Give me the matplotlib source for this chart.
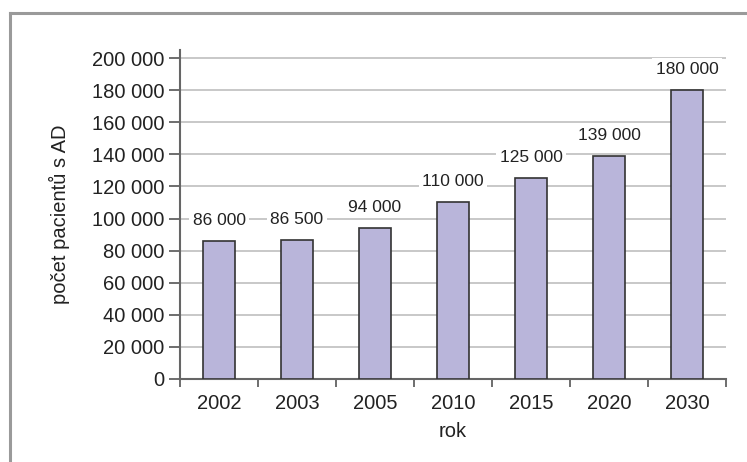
import matplotlib.pyplot as plt
from matplotlib.lines import Line2D

years = ['2002', '2003', '2005', '2010', '2015', '2020', '2030']
patients = [86000, 86500, 94000, 110000, 125000, 139000, 180000]
y_ticks = list(range(0, 200001, 20000))


def fmt(v):
    return f'{v:,}'.replace(',', ' ')


plt.rcParams['font.family'] = ['Liberation Sans', 'DejaVu Sans']

fig = plt.figure(figsize=(7.47, 4.62), dpi=100)
ax = fig.add_axes([0.241, 0.1797, 0.731, 0.712])

x = range(len(years))
ax.bar(x, patients, width=0.42, color='#b9b5da', edgecolor='#333333',
       linewidth=1.2, zorder=3)

for xi, v in zip(x, patients):
    ax.annotate(fmt(v), (xi, v), xytext=(0, 15), textcoords='offset points',
                ha='center', va='center', fontsize=12.5, color='#222222',
                bbox=dict(boxstyle='square,pad=0.2', fc='white', ec='none'),
                zorder=4)

ax.set_xlim(-0.5, len(years) - 0.5)
ax.set_ylim(0, 205000)
ax.set_yticks(y_ticks)
ax.set_yticklabels([fmt(v) for v in y_ticks], fontsize=14.5, color='#222222')
ax.yaxis.grid(True, color='#c4c4c4', linewidth=1.3, zorder=0)

# category labels in the middle, tick marks on the boundaries
ax.set_xticks(list(x))
ax.set_xticklabels(years, fontsize=14.5, color='#222222')
ax.tick_params(axis='x', length=0, pad=11)
ax.set_xticks([i - 0.5 for i in range(len(years) + 1)], minor=True)
ax.tick_params(axis='x', which='minor', length=6, width=1.2, color='#555555')
ax.tick_params(axis='y', length=8, width=1.2, color='#555555', pad=3)

for side in ['top', 'right']:
    ax.spines[side].set_visible(False)
for side in ['left', 'bottom']:
    ax.spines[side].set_color('#666666')
    ax.spines[side].set_linewidth(1.5)

ax.set_xlabel('rok', fontsize=14.5, color='#222222', labelpad=6)
ax.set_ylabel('počet pacientů s AD', fontsize=14.5, color='#222222', labelpad=16)

# outer frame, open on the right and at the bottom
fw, fh = 747, 462
fig.add_artist(Line2D([10 / fw, 1], [1 - 13 / fh, 1 - 13 / fh],
                      color='#9a9a9a', linewidth=2.2))
fig.add_artist(Line2D([10 / fw, 10 / fw], [1 - 13 / fh, 0],
                      color='#9a9a9a', linewidth=2.2))

fig.savefig('out.png', dpi=100)
